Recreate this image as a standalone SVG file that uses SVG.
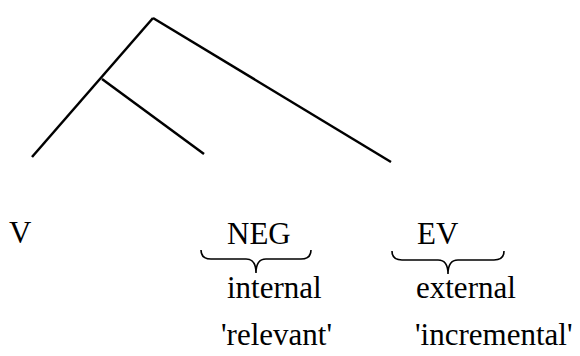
<svg xmlns="http://www.w3.org/2000/svg" width="580" height="356" viewBox="0 0 580 356">
<style>
.e{stroke:#000;stroke-width:2.5;fill:none;stroke-linecap:butt}
.b{stroke:#000;stroke-width:1.6;fill:none}
</style>
<rect width="580" height="356" fill="#fff"/>
<g id="connectors">
<line class="e" x1="153" y1="18" x2="32" y2="157"/>
<line class="e" x1="153" y1="18" x2="391" y2="162"/>
<line class="e" x1="102" y1="79" x2="204" y2="154"/>
</g>
<g font-family="Liberation Serif, Times New Roman, serif" font-size="31" fill="#000">
<g id="node-V"><text x="9" y="243">V</text></g>
<g id="node-NEG">
<text x="227" y="244">NEG</text>
<path class="b" d="M201,250 Q201,259 211,259 L246,259 Q256,259 256,273 Q256,259 266,259 L301,259 Q311,259 311,250"/>
<text x="227" y="298">internal</text>
<text x="221" y="345">'relevant'</text>
</g>
<g id="node-EV">
<text x="417" y="244">EV</text>
<path class="b" d="M392,251 Q392,260 402,260 L438,260 Q448,260 448,274 Q448,260 458,260 L494,260 Q504,260 504,251"/>
<text x="416" y="298">external</text>
<text x="415" y="345">'incremental'</text>
</g>
</g>
</svg>
